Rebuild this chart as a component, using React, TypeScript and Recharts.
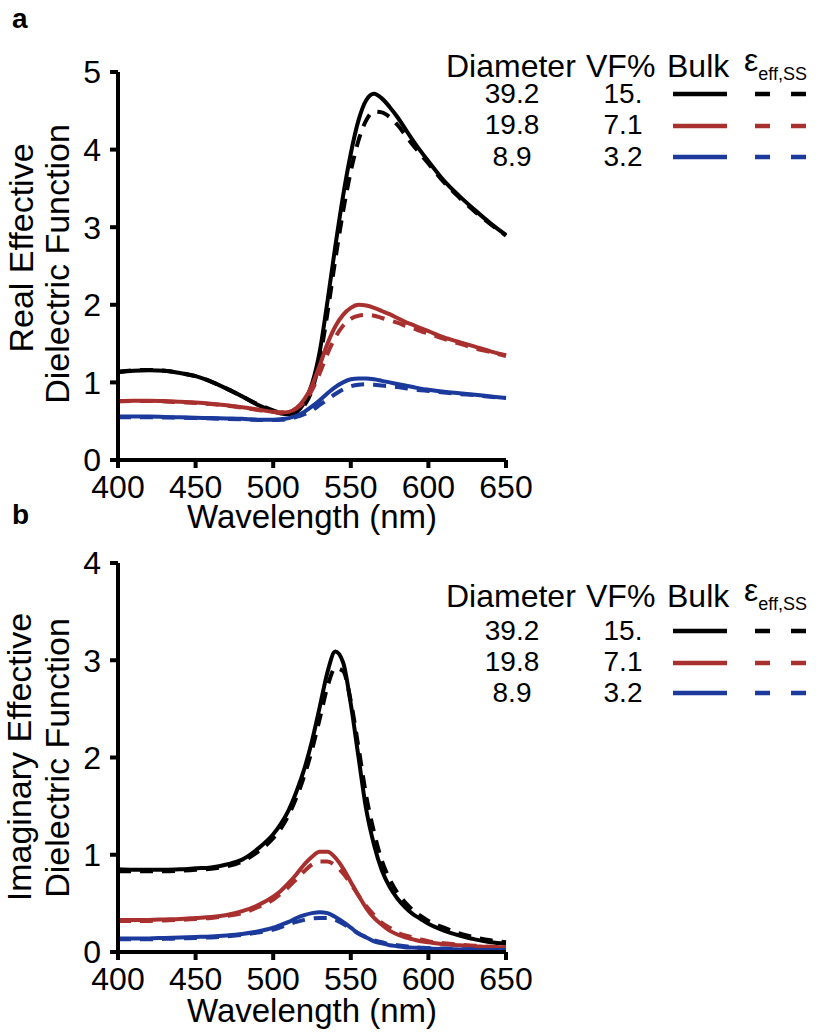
import React from "react";
import { LineChart, Line, XAxis, YAxis } from "recharts";

const FONT = '"Liberation Sans", Arial, Helvetica, sans-serif';
const BLACK = "#000000";
const RED = "#a8302f";
const BLUE = "#1b3a9b";

// wavelength (nm), shared by every series
const wavelengths = [
  400, 410, 420, 430, 440, 450, 460, 470, 480, 490, 500, 505, 510, 515, 520, 525, 530, 535,
  540, 545, 550, 555, 560, 565, 570, 575, 580, 585, 590, 595, 600, 610, 620, 630, 640, 650,
];

// panel a: real part
const realBulk39 = [
  1.13, 1.15, 1.155, 1.15, 1.12, 1.08, 1.01, 0.92, 0.82, 0.71, 0.63, 0.6, 0.59, 0.62, 0.74, 0.98,
  1.4, 2.05, 2.75, 3.4, 3.95, 4.38, 4.64, 4.72, 4.66, 4.55, 4.42, 4.27, 4.12, 3.98, 3.85, 3.6, 3.4,
  3.22, 3.05, 2.9,
];
const realSS39 = [
  1.14, 1.155, 1.16, 1.15, 1.12, 1.08, 1.01, 0.92, 0.82, 0.72, 0.64, 0.61, 0.6, 0.61, 0.7, 0.9, 1.3,
  1.9, 2.58, 3.2, 3.72, 4.12, 4.38, 4.49, 4.48, 4.42, 4.32, 4.19, 4.06, 3.94, 3.82, 3.58, 3.38, 3.2,
  3.04, 2.89,
];
const realBulk19 = [
  0.76, 0.765, 0.765, 0.76, 0.75, 0.74, 0.725, 0.705, 0.68, 0.65, 0.62, 0.61, 0.62, 0.67, 0.78, 0.96,
  1.22, 1.5, 1.72, 1.87, 1.96, 2.0, 1.99, 1.96, 1.92, 1.88, 1.83, 1.78, 1.74, 1.7, 1.66, 1.58, 1.52,
  1.46, 1.4, 1.35,
];
const realSS19 = [
  0.755, 0.76, 0.76, 0.755, 0.745, 0.735, 0.72, 0.7, 0.675, 0.645, 0.62, 0.615, 0.625, 0.665, 0.75,
  0.9, 1.12, 1.37, 1.58, 1.73, 1.82, 1.86, 1.87, 1.86, 1.83, 1.8, 1.77, 1.73, 1.7, 1.66, 1.63, 1.56,
  1.5, 1.44, 1.39, 1.34,
];
const realBulk8 = [
  0.56, 0.56, 0.56, 0.555, 0.55, 0.545, 0.54, 0.535, 0.53, 0.52, 0.52, 0.525, 0.54, 0.57, 0.62, 0.69,
  0.77, 0.86, 0.94, 1.0, 1.04, 1.05, 1.05, 1.04, 1.02, 1.0, 0.98, 0.96, 0.94, 0.92, 0.905, 0.88, 0.86,
  0.84, 0.82, 0.8,
];
const realSS8 = [
  0.55, 0.55, 0.55, 0.548, 0.545, 0.54, 0.535, 0.53, 0.525, 0.517, 0.515, 0.518, 0.53, 0.555, 0.59,
  0.64, 0.71, 0.78, 0.85, 0.91, 0.95, 0.97, 0.975, 0.97, 0.96, 0.95, 0.94, 0.925, 0.91, 0.9, 0.89,
  0.87, 0.85, 0.835, 0.815, 0.8,
];

// panel b: imaginary part
const imagBulk39 = [
  0.85, 0.845, 0.845, 0.845, 0.85, 0.86, 0.87, 0.9, 0.95, 1.06, 1.21, 1.32, 1.46, 1.65, 1.88, 2.17,
  2.52, 2.88, 3.09, 2.98, 2.55, 2.0, 1.46, 1.1, 0.84, 0.67, 0.55, 0.46, 0.39, 0.34, 0.29, 0.22, 0.17,
  0.13, 0.1, 0.085,
];
const imagSS39 = [
  0.83, 0.83, 0.83, 0.83, 0.835, 0.845, 0.855, 0.88, 0.93, 1.03, 1.17, 1.27, 1.41, 1.59, 1.81, 2.08,
  2.4, 2.73, 2.92, 2.89, 2.58, 2.1, 1.6, 1.23, 0.94, 0.75, 0.61, 0.51, 0.43, 0.37, 0.32, 0.25, 0.19,
  0.15, 0.12, 0.1,
];
const imagBulk19 = [
  0.33, 0.33, 0.33, 0.335, 0.34, 0.35, 0.36, 0.38, 0.42, 0.48, 0.57, 0.63, 0.71, 0.8, 0.9, 0.98, 1.03,
  1.03, 0.97, 0.86, 0.72, 0.58, 0.45, 0.35, 0.28, 0.22, 0.18, 0.15, 0.13, 0.11, 0.1, 0.08, 0.07, 0.06,
  0.05, 0.05,
];
const imagSS19 = [
  0.32, 0.32, 0.32, 0.325, 0.33, 0.34, 0.35, 0.37, 0.4, 0.46, 0.54, 0.6, 0.67, 0.75, 0.83, 0.9, 0.93,
  0.93, 0.89, 0.81, 0.7, 0.58, 0.47, 0.38, 0.3, 0.25, 0.2, 0.17, 0.15, 0.13, 0.11, 0.09, 0.075, 0.065,
  0.055, 0.05,
];
const imagBulk8 = [
  0.14, 0.14, 0.14, 0.145, 0.15, 0.155, 0.16, 0.17, 0.185, 0.21, 0.25, 0.28, 0.31, 0.35, 0.38, 0.4,
  0.41, 0.4, 0.36, 0.31, 0.25, 0.19, 0.15, 0.11, 0.09, 0.07, 0.06, 0.05, 0.045, 0.04, 0.035, 0.03,
  0.025, 0.02, 0.02, 0.02,
];
const imagSS8 = [
  0.13, 0.13, 0.13, 0.135, 0.14, 0.145, 0.15, 0.16, 0.175, 0.2, 0.23, 0.255, 0.285, 0.31, 0.33, 0.345,
  0.35, 0.35, 0.33, 0.29, 0.24, 0.19, 0.15, 0.12, 0.1, 0.08, 0.07, 0.06, 0.05, 0.045, 0.04, 0.035,
  0.03, 0.025, 0.02, 0.02,
];

// legend table
const diameters = ["39.2", "19.8", "8.9"];
const volumeFractions = ["15.", "7.1", "3.2"];
const rowColors = [BLACK, RED, BLUE];

const xTicks = [400, 450, 500, 550, 600, 650];
const realTicks = [0, 1, 2, 3, 4, 5];
const imagTicks = [0, 1, 2, 3, 4];

const buildRows = (series: number[][]) =>
  wavelengths.map((wl, i) => ({
    wl,
    bulk39: series[0][i],
    ss39: series[1][i],
    bulk19: series[2][i],
    ss19: series[3][i],
    bulk8: series[4][i],
    ss8: series[5][i],
  }));

const realData = buildRows([realBulk39, realSS39, realBulk19, realSS19, realBulk8, realSS8]);
const imagData = buildRows([imagBulk39, imagSS39, imagBulk19, imagSS19, imagBulk8, imagSS8]);

const lines = [
  { key: "bulk39", color: BLACK, dashed: false },
  { key: "ss39", color: BLACK, dashed: true },
  { key: "bulk19", color: RED, dashed: false },
  { key: "ss19", color: RED, dashed: true },
  { key: "bulk8", color: BLUE, dashed: false },
  { key: "ss8", color: BLUE, dashed: true },
];

const tickStyle = { fill: "#000", fontSize: 32, fontFamily: FONT };
const axisStroke = { stroke: "#000", strokeWidth: 4 };

interface PanelProps {
  data: ReturnType<typeof buildRows>;
  yMax: number;
  yTicks: number[];
  top: number;
  height: number;
  marginTop: number;
  marginBottom: number;
}

function Panel({ data, yMax, yTicks, top, height, marginTop, marginBottom }: PanelProps) {
  return (
    <div style={{ position: "absolute", left: 0, top }}>
      <LineChart
        width={820}
        height={height}
        data={data}
        margin={{ top: marginTop, right: 314, bottom: marginBottom, left: 58 }}
      >
        <XAxis
          dataKey="wl"
          type="number"
          domain={[400, 650]}
          ticks={xTicks}
          interval={0}
          height={40}
          tick={tickStyle}
          tickSize={8}
          tickMargin={7}
          axisLine={axisStroke}
          tickLine={axisStroke}
        />
        <YAxis
          type="number"
          domain={[0, yMax]}
          ticks={yTicks}
          interval={0}
          width={60}
          tick={tickStyle}
          tickSize={8}
          tickMargin={9}
          axisLine={axisStroke}
          tickLine={axisStroke}
        />
        {lines.map((l) => (
          <Line
            key={l.key}
            type="monotone"
            dataKey={l.key}
            stroke={l.color}
            strokeWidth={4}
            strokeDasharray={l.dashed ? "13 9" : undefined}
            dot={false}
            activeDot={false}
            isAnimationActive={false}
          />
        ))}
      </LineChart>
    </div>
  );
}

function LegendTable({ headerY, rowY, lineY }: { headerY: number; rowY: number[]; lineY: number[] }) {
  return (
    <g fontFamily={FONT} fill="#000">
      <text x={446} y={headerY} fontSize={32}>Diameter</text>
      <text x={586} y={headerY} fontSize={32}>VF%</text>
      <text x={667} y={headerY} fontSize={32}>Bulk</text>
      <text x={744} y={headerY} fontSize={32}>
        <tspan dy={-6}>ε</tspan>
        <tspan fontSize={18} dy={9}>eff,SS</tspan>
      </text>
      {diameters.map((d, i) => (
        <g key={d}>
          <text x={512} y={rowY[i]} fontSize={28} textAnchor="middle">{d}</text>
          <text x={623} y={rowY[i]} fontSize={28} textAnchor="middle">{volumeFractions[i]}</text>
          <line x1={673} x2={727} y1={lineY[i]} y2={lineY[i]} stroke={rowColors[i]} strokeWidth={4.5} />
          <line
            x1={755}
            x2={806}
            y1={lineY[i]}
            y2={lineY[i]}
            stroke={rowColors[i]}
            strokeWidth={4.5}
            strokeDasharray="15 21"
          />
        </g>
      ))}
    </g>
  );
}

export default function App() {
  return (
    <div style={{ position: "absolute", left: 0, top: 0, width: 820, height: 1036, background: "#fff" }}>
      <Panel data={realData} yMax={5} yTicks={realTicks} top={0} height={540} marginTop={72} marginBottom={40} />
      <Panel data={imagData} yMax={4} yTicks={imagTicks} top={520} height={516} marginTop={43} marginBottom={44} />
      <svg
        width={820}
        height={1036}
        style={{ position: "absolute", left: 0, top: 0, pointerEvents: "none" }}
        fontFamily={FONT}
      >
        <text x={12} y={28} fontSize={28} fontWeight="bold">a</text>
        <text x={12} y={524} fontSize={28} fontWeight="bold">b</text>

        <text x={312} y={528} fontSize={33} textAnchor="middle">Wavelength (nm)</text>
        <text x={312} y={1022} fontSize={33} textAnchor="middle">Wavelength (nm)</text>

        <text transform="translate(33 248) rotate(-90)" fontSize={34} textAnchor="middle">Real Effective</text>
        <text transform="translate(69 264) rotate(-90)" fontSize={34} textAnchor="middle">Dielectric Function</text>
        <text transform="translate(31 757) rotate(-90)" fontSize={34} textAnchor="middle">Imaginary Effective</text>
        <text transform="translate(69 758) rotate(-90)" fontSize={34} textAnchor="middle">Dielectric Function</text>

        <LegendTable headerY={77} rowY={[103, 134, 166]} lineY={[94, 126, 157]} />
        <LegendTable headerY={607} rowY={[640, 671, 702]} lineY={[631, 663, 693]} />
      </svg>
    </div>
  );
}
